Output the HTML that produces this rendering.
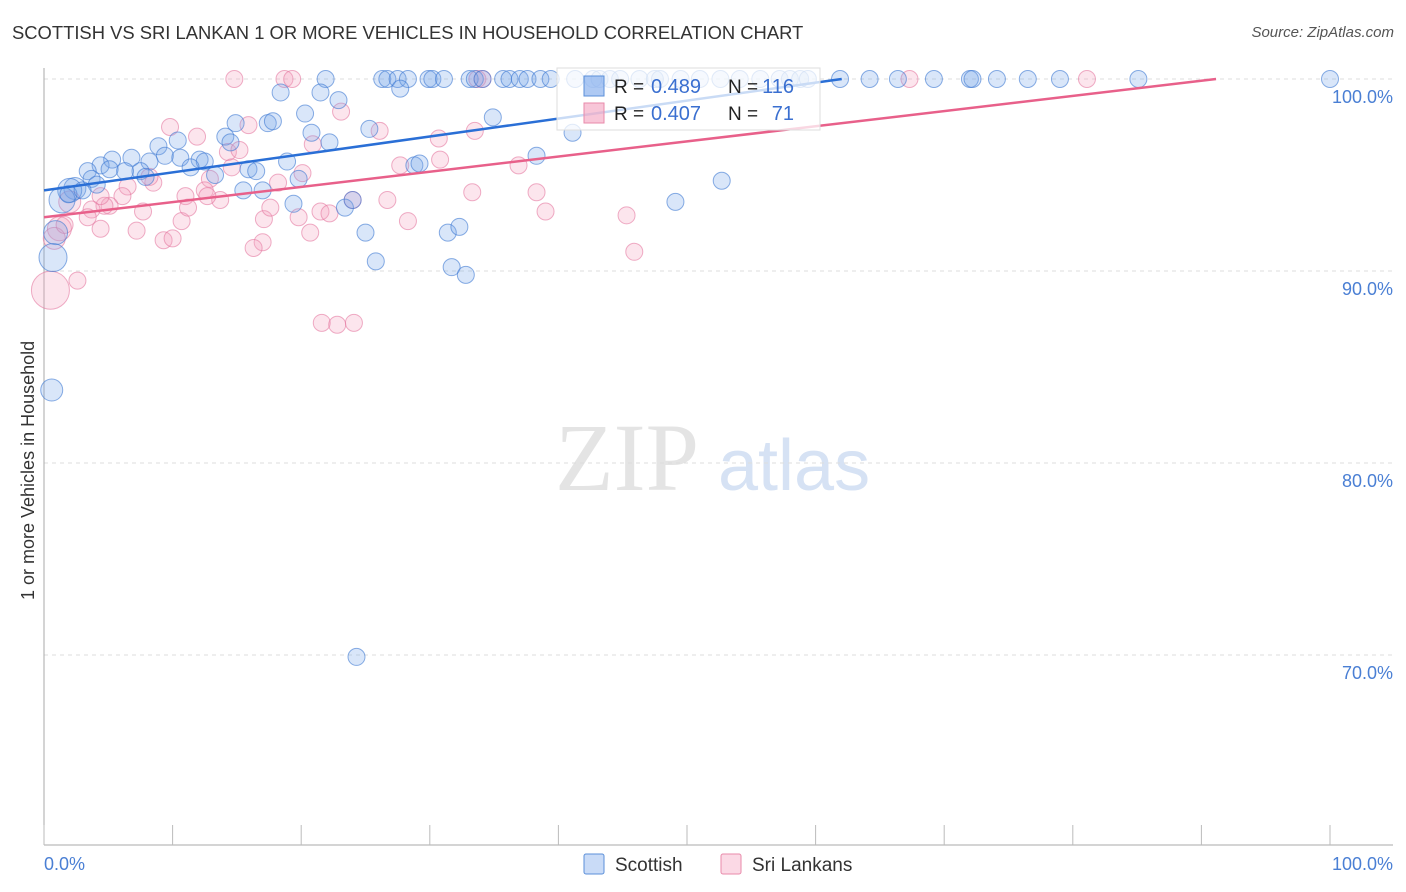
<!DOCTYPE html>
<html><head><meta charset="utf-8">
<style>
body{margin:0;background:#fff;font-family:"Liberation Sans",sans-serif;}
#wrap{position:relative;width:1406px;height:892px;overflow:hidden;}
.t{position:absolute;white-space:nowrap;}
</style></head>
<body><div id="wrap">
<div class="t" style="left:12px;top:22px;font-size:18.4px;color:#333;">SCOTTISH VS SRI LANKAN 1 OR MORE VEHICLES IN HOUSEHOLD CORRELATION CHART</div>
<div class="t" style="right:12px;top:24px;font-size:15px;color:#555;font-style:italic;">Source: ZipAtlas.com</div>
<div class="t" style="left:8px;top:455px;font-size:18px;color:#333;transform:rotate(-90deg);transform-origin:left top;width:0;"><span style="position:absolute;left:-145px;top:10px;">1 or more Vehicles in Household</span></div>
<svg id="svg" width="1406" height="892" style="position:absolute;left:0;top:0"></svg>
</div>
<script>
const xs_blue=[21.9,26.3,26.7,27.5,28.3,29.9,30.2,31.1,33.1,33.5,34.1,35.7,36.2,37.0,37.6,38.6,39.4,41.3,42.7,43.2,44.0,44.8,46.3,47.5,47.9,49.5,51.0,52.6,54.1,55.7,57.2,58.0,58.8,59.4,61.9,64.2,66.4,69.2,72.0,72.2,74.1,76.5,79.0,85.1,100,
18.4,21.5,22.9,27.7,14.9,17.4,17.8,20.3,20.8,22.2,34.9,41.1,25.3,14.1,14.5,10.4,8.9,9.4,12.1,12.5,10.6,5.3,6.8,4.4,3.4,3.7,2.4,2.0,1.4,0.9,0.7,0.6,8.2,7.5,6.3,7.9,11.4,13.3,15.9,16.5,18.9,19.8,15.5,17.0,19.4,23.4,24.0,28.8,29.2,38.3,25.0,25.8,31.4,32.3,31.7,32.8,49.1,52.7,24.3,5.1,4.1,1.9,3.0];
const ys_blue=[100,100,100,100,100,100,100,100,100,100,100,100,100,100,100,100,100,100,100,100,100,100,100,100,100,100,100,100,100,100,100,100,100,100,100,100,100,100,100,100,100,100,100,100,100,
99.3,99.3,98.9,99.5,97.7,97.7,97.8,98.2,97.2,96.7,98.0,97.2,97.4,97.0,96.7,96.8,96.5,96.0,95.8,95.7,95.9,95.8,95.9,95.5,95.2,94.8,94.3,94.2,93.7,92.0,90.7,83.8,95.7,95.2,95.2,94.9,95.4,95.0,95.3,95.2,95.7,94.8,94.2,94.2,93.5,93.3,93.7,95.5,95.6,96.0,92.0,90.5,92.0,92.3,90.2,89.8,93.6,94.7,69.9,95.3,94.5,94.0,94.2];
const big_blue={"0.7":14,"1.4":13,"0.9":12,"0.6":11,"2.0":12,"2.4":11};
const xs_pink=[14.8,18.7,19.3,33.7,34.1,67.3,81.1,9.8,11.9,14.3,15.2,15.9,20.9,23.1,26.1,30.7,30.8,33.5,27.7,20.1,18.2,14.6,12.9,12.5,11.0,8.5,8.2,6.5,6.1,5.1,4.7,3.7,3.4,2.0,1.2,0.8,0.5,2.6,4.4,7.2,7.7,9.3,10.0,10.7,11.2,13.7,12.7,17.1,17.6,17.0,16.3,19.8,20.7,21.5,22.2,24.0,26.7,28.3,33.3,36.9,38.3,39.0,45.3,45.9,21.6,22.8,24.1,4.4,1.6];
const ys_pink=[100,100,100,100,100,100,100,97.5,97.0,96.2,96.3,97.6,96.6,98.3,97.3,96.9,95.8,97.3,95.5,95.1,94.6,95.4,94.8,94.2,93.9,94.6,94.9,94.4,93.9,93.4,93.4,93.2,92.8,93.6,92.2,91.7,89.0,89.5,92.2,92.1,93.1,91.6,91.7,92.6,93.3,93.7,93.9,92.7,93.3,91.5,91.2,92.8,92.0,93.1,93.0,93.7,93.7,92.6,94.1,95.5,94.1,93.1,92.9,91.0,87.3,87.2,87.3,93.9,92.4];
const big_pink={"0.5":19,"1.2":12,"0.8":11,"2.0":11};
const yTicks=[100,90,80,70];
const xTickLabels=["0.0%","100.0%"];
const trendBlue=[94.2,0.0935];
const trendPink=[92.8,0.079];

const NS="http://www.w3.org/2000/svg";
const svg=document.getElementById('svg');
const X0=44,X1=1330,YT=79,PX=192;
const sx=v=>X0+(X1-X0)*v/100;
const sy=v=>YT+(100-v)*PX/10;
function mk(tag,attrs,parent){const e=document.createElementNS(NS,tag);for(const k in attrs)e.setAttribute(k,attrs[k]);(parent||svg).appendChild(e);return e;}
let wm=mk('text',{x:555,y:490,'font-size':96,fill:'#e4e4e4','font-family':'Liberation Serif,serif'});wm.textContent='ZIP';


let wm2=mk('text',{x:718,y:490,'font-size':72,fill:'#d6e2f4','font-family':'Liberation Sans,sans-serif'});wm2.textContent='atlas';


yTicks.forEach(v=>{
 let g=mk('line',{x1:X0,x2:1393,y1:sy(v),y2:sy(v),stroke:'#ddd','stroke-dasharray':'4,4'});
 
 
 let t=mk('text',{x:1393,y:sy(v)+24,'text-anchor':'end','font-size':18,fill:'#4a7fd4'});t.textContent=v.toFixed(1)+'%';
 
 
});
let ya=mk('line',{x1:X0,x2:X0,y1:68,y2:845,stroke:'#aaa'});


let xa=mk('line',{x1:X0,x2:1393,y1:845,y2:845,stroke:'#aaa'});


for(let i=0;i<=10;i++){let tk=mk('line',{x1:sx(i*10),x2:sx(i*10),y1:825,y2:845,stroke:'#bbb'});
 
 }
let xl0=mk('text',{x:44,y:870,'font-size':18,fill:'#4a7fd4'});xl0.textContent=xTickLabels[0];


let xl1=mk('text',{x:1393,y:870,'font-size':18,fill:'#4a7fd4','text-anchor':'end'});xl1.textContent=xTickLabels[1];


function pts(xs,ys,big,fill,stroke,name){xs.forEach((x,i)=>{
 let r=(ys[i]<100&&big[x.toFixed(1)])||8.5;
 let c=mk('circle',{cx:sx(x),cy:sy(ys[i]),r:r,fill:fill,stroke:stroke,'stroke-width':1});
 
 
});}
pts(xs_pink,ys_pink,big_pink,'rgba(244,160,190,0.28)','rgba(228,120,160,0.6)','sri-lankan-point');
pts(xs_blue,ys_blue,big_blue,'rgba(120,165,235,0.28)','rgba(60,120,210,0.6)','scottish-point');
function trend(p,col,name){let xe=Math.min(100,(100-p[0])/p[1]);
 let l=mk('line',{x1:sx(0),y1:sy(p[0]),x2:sx(xe),y2:sy(p[0]+p[1]*xe),stroke:col,'stroke-width':2.5});
 
 }
trend(trendBlue,'#2a6fd6','scottish-trend-line');
trend(trendPink,'#e8608a','sri-lankan-trend-line');
let lb=mk('rect',{x:557,y:68,width:263,height:62,fill:'rgba(255,255,255,0.75)',stroke:'#ddd'});


function legRow(y,fill,stroke,r,n,name){
 let s=mk('rect',{x:584,y:y-10,width:20,height:20,fill:fill,stroke:stroke});
 
 
 let a=mk('text',{x:614,y:y+7,'font-size':19,fill:'#222'});a.textContent='R =';
 
 
 let b=mk('text',{x:651,y:y+7,'font-size':20,fill:'#3a6fd0'});b.textContent=r;
 
 
 let c=mk('text',{x:728,y:y+7,'font-size':19,fill:'#222'});c.textContent='N =';
 
 
 let d=mk('text',{x:794,y:y+7,'font-size':20,fill:'#3a6fd0','text-anchor':'end'});d.textContent=n;
 
 
}
legRow(86,'rgba(120,165,235,0.6)','#5b8fd9','0.489','116','scottish');
legRow(113,'rgba(244,160,190,0.6)','#e88aaa','0.407','71','sri-lankan');
function bl(x,fill,stroke,label,name){
 let s=mk('rect',{x:x,y:854,width:20,height:20,fill:fill,stroke:stroke,rx:2});
 
 
 let t=mk('text',{x:x+31,y:871,'font-size':19,fill:'#333'});t.textContent=label;
 
 
}
bl(584,'rgba(120,165,235,0.4)','#5b8fd9','Scottish','scottish');
bl(721,'rgba(244,160,190,0.4)','#e88aaa','Sri Lankans','sri-lankan');
</script>
</body></html>
